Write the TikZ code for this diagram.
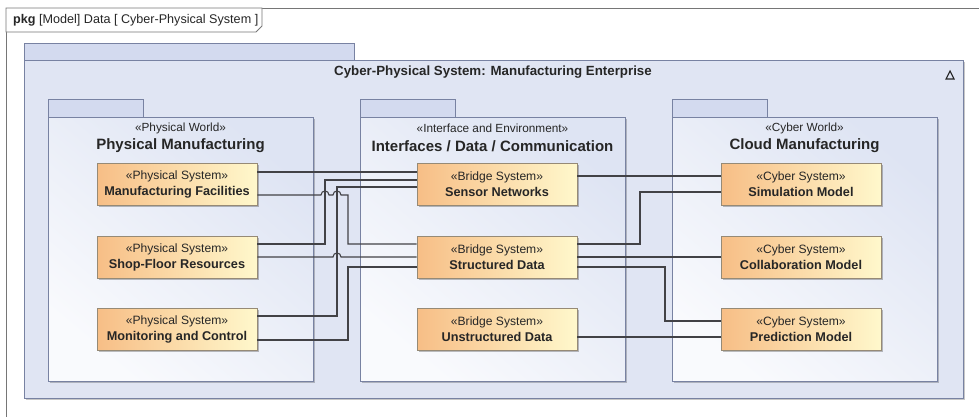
\documentclass[tikz,border=0pt]{standalone}
\usepackage{fontspec}
\setmainfont{Liberation Sans}
\usetikzlibrary{shadows}

\definecolor{framegray}{RGB}{118,118,118}
\definecolor{pkgline}{RGB}{120,130,162}
\definecolor{pkgfill}{RGB}{224,229,243}
\definecolor{pkgtab}{RGB}{211,218,239}
\definecolor{innerhi}{RGB}{249,250,253}
\definecolor{innerlo}{RGB}{222,228,243}
\definecolor{blockL}{RGB}{247,190,134}
\definecolor{blockR}{RGB}{255,248,204}
\definecolor{blockline}{RGB}{150,138,118}
\definecolor{wire}{RGB}{66,66,70}
\definecolor{ink}{RGB}{38,38,38}

% two-line block label: stereotype over bold name
\newcommand{\blocktext}[2]{#1\\{\bfseries\fontsize{12.7}{16}\selectfont #2}}

\tikzset{
  pkgshape/.style={draw=pkgline, line width=1pt},
  pkgshadow/.style={drop shadow={shadow xshift=1.5pt, shadow yshift=-1.5pt, fill=black, opacity=0.22}},
  block/.style={rectangle, draw=blockline, line width=0.8pt,
    left color=blockL, right color=blockR,
    minimum width=160pt, minimum height=42pt, inner sep=0pt,
    align=center, text=ink, font=\fontsize{12.1}{16}\selectfont,
    drop shadow={shadow xshift=2pt, shadow yshift=-2pt, fill=black, opacity=0.25}},
  pkgstereo/.style={text=ink, font=\fontsize{11.8}{14}\selectfont},
  pkgtitle/.style={text=ink, font=\bfseries\fontsize{15}{18}\selectfont},
  conn/.style={draw=wire, line width=1.1pt},
}

\begin{document}
\begin{tikzpicture}[x=1pt, y=-1pt]
\useasboundingbox (0,0) rectangle (979,416);

% diagram frame and its header tab
\draw[framegray, line width=1pt] (6,440) -- (6,8) -- (1000,8);
\draw[framegray, line width=0.9pt, fill=white] (6,8) -- (262,8) -- (262,26) -- (256,32) -- (6,32) -- cycle;
\node[anchor=west, text=ink, font=\fontsize{12.6}{14}\selectfont, inner sep=0pt] (framelabel) at (13,20)
  {\textbf{pkg} [Model] Data [ Cyber-Physical System ]};

% outer package
\draw[pkgshape, fill=pkgtab] (24,43) rectangle (354,60);
\draw[pkgshape, fill=pkgfill, pkgshadow] (24,60) rectangle (963,398);
\node[text=ink, font=\bfseries\fontsize{13.3}{16}\selectfont] (outertitle) at (493,72)
  {Cyber-Physical System: Manufacturing Enterprise};
\draw[ink, line width=1.1pt, line join=miter] (946,79) -- (954,79) -- (950,71) -- cycle;

% inner packages
\foreach \px/\qx in {48/313, 360/625, 672/937}{
  \draw[pkgshape, fill=pkgtab] (\px,99) rectangle ({\px+95},117);
  \draw[pkgshape, top color=innerlo, bottom color=innerhi, shading angle=-40, pkgshadow]
    (\px,117) rectangle (\qx,381);
}

\node[pkgstereo] (pwst) at (180.5,128) {«Physical World»};
\node[pkgtitle]  (pwti) at (180.5,146) {Physical Manufacturing};
\node[pkgstereo] (iest) at (492.5,128) {«Interface and Environment»};
\node[pkgtitle]  (ieti) at (492.5,146) {Interfaces / Data / Communication};
\node[pkgstereo] (cwst) at (804.5,128) {«Cyber World»};
\node[pkgtitle]  (cwti) at (804.5,146) {Cloud Manufacturing};

% blocks
\node[block] (mf)   at (177,184) {\blocktext{«Physical System»}{Manufacturing Facilities}};
\node[block] (sfr)  at (177,257) {\blocktext{«Physical System»}{Shop-Floor Resources}};
\node[block] (mc)   at (177,329) {\blocktext{«Physical System»}{Monitoring and Control}};
\node[block] (sn)   at (497,184) {\blocktext{«Bridge System»}{Sensor Networks}};
\node[block] (sd)   at (497,257) {\blocktext{«Bridge System»}{Structured Data}};
\node[block] (ud)   at (497,329) {\blocktext{«Bridge System»}{Unstructured Data}};
\node[block] (sim)  at (801,184) {\blocktext{«Cyber System»}{Simulation Model}};
\node[block] (col)  at (801,257) {\blocktext{«Cyber System»}{Collaboration Model}};
\node[block] (pred) at (801,329) {\blocktext{«Cyber System»}{Prediction Model}};

% physical world <-> bridge systems (with line hops)
\draw[conn] ([yshift=12pt]mf.east) -- ([yshift=12pt]sn.west);
\draw[conn] ([yshift=-11pt]mf.east) -- (321,195)
  .. controls (321,189.7) and (329,189.7) .. (329,195) -- (333,195)
  .. controls (333,189.7) and (341,189.7) .. (341,195) -- (348,195)
  -- (348,244) -- ([yshift=13pt]sd.west);
\draw[conn] ([yshift=13pt]sfr.east) -- (325,244) -- (325,180) -- ([yshift=4pt]sn.west);
\draw[conn] ([yshift=13pt]mc.east) -- (337,316) -- (337,187) -- ([yshift=-3pt]sn.west);
\draw[conn] (sfr.east) -- (333,257)
  .. controls (333,251.7) and (341,251.7) .. (341,257) -- (sd.west);
\draw[conn] ([yshift=-11pt]mc.east) -- (348,340) -- (348,267) -- ([yshift=-10pt]sd.west);

% bridge systems <-> cyber world
\draw[conn] ([yshift=8pt]sn.east) -- ([yshift=8pt]sim.west);
\draw[conn] ([yshift=13pt]sd.east) -- (640,244) -- (640,192) -- ([yshift=-8pt]sim.west);
\draw[conn] (sd.east) -- (col.west);
\draw[conn] ([yshift=-10pt]sd.east) -- (665,267) -- (665,321) -- ([yshift=8pt]pred.west);
\draw[conn] ([yshift=-8pt]ud.east) -- ([yshift=-8pt]pred.west);
\end{tikzpicture}
\end{document}
